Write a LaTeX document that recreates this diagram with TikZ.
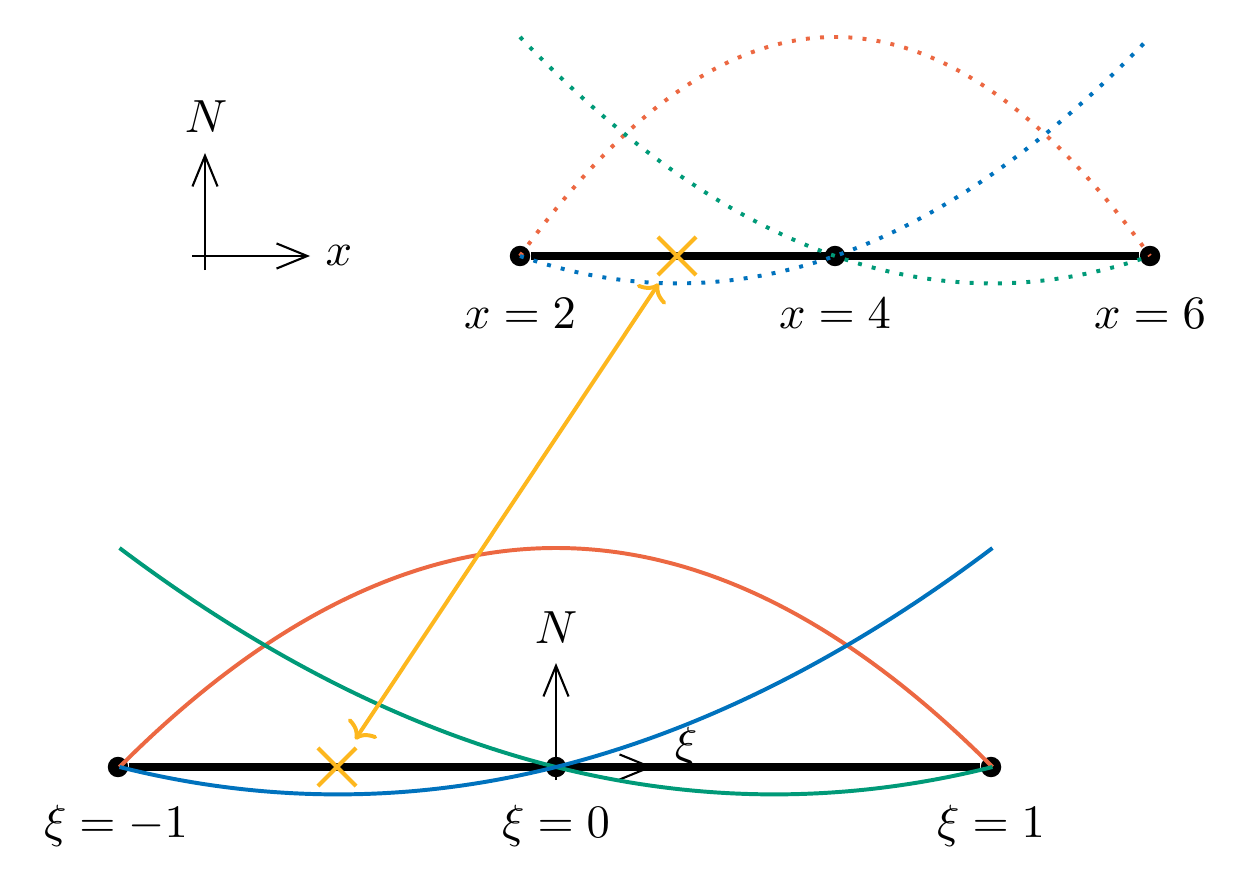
\documentclass[tikz,border=0pt]{standalone}
\usetikzlibrary{arrows.meta,shapes.misc}
\definecolor{cred}{RGB}{236,104,66}
\definecolor{cblue}{RGB}{0,114,189}
\definecolor{cgreen}{RGB}{0,154,120}
\definecolor{corange}{RGB}{253,183,30}
\begin{document}
\begin{tikzpicture}[x=0.215pt,y=-0.215pt,
  dotnode/.style={circle,fill=black,inner sep=0pt,minimum size=4.4pt},
  elemline/.style={line width=1.6pt},
  solidcurve/.style={line width=0.85pt},
  dotcurve/.style={line width=0.85pt,dash pattern=on 0.85pt off 2.2pt},
  axisline/.style={line width=0.45pt,-{Straight Barb[length=6.6pt,width=5.4pt]}},
  tickline/.style={line width=0.45pt},
  crossmark/.style={cross out,draw=corange,line width=0.9pt,minimum size=7.3pt,inner sep=0pt},
  maparrow/.style={corange,line width=0.85pt,{To[length=3.2pt,width=7.4pt]}-{To[length=3.2pt,width=7.4pt]},shorten <=2.2pt,shorten >=2.2pt},
  lab/.style={anchor=base,inner sep=0pt}]
\useasboundingbox (0,0) rectangle (1243,873);

% ---- top-left axes ----
\coordinate (oA) at (205,256);
\coordinate (oAd) at (205,270);
\coordinate (oAl) at (192,256);
\coordinate (oAu) at (205,153);
\coordinate (oAr) at (310,256);
\draw[tickline] (oAd) -- (oA);
\draw[tickline] (oAl) -- (oA);
\draw[axisline] (oA) -- (oAu);
\draw[axisline] (oA) -- (oAr);
\node[lab] (lNA) at (206,133) {$N$};
\node[lab] (lxA) at (339,265) {$x$};

% ---- top (physical) element ----
\node[dotnode] (t1) at (520,256) {};
\node[dotnode] (t2) at (835,256) {};
\node[dotnode] (t3) at (1150,256) {};
\draw[elemline] (t1) -- (t3);
\node[lab] (lt1) at (520,328) {$x=2$};
\node[lab] (lt2) at (835,328) {$x=4$};
\node[lab] (lt3) at (1150,328) {$x=6$};

\draw[dotcurve,cred] plot[domain=-1:1,samples=80,smooth] ({835+315*\x},{256-219*(1-\x*\x)});
\draw[dotcurve,cgreen] plot[domain=-1:1,samples=80,smooth] ({835+315*\x},{256-219*(\x*(\x-1)/2)});
\draw[dotcurve,cblue] plot[domain=-1:1,samples=80,smooth] ({835+315*\x},{256-219*(\x*(\x+1)/2)});

% ---- bottom (reference) element ----
\node[dotnode] (b1) at (118,767) {};
\node[dotnode] (b2) at (556,767) {};
\node[dotnode] (b3) at (991,767) {};
\draw[elemline] (b1) -- (b3);
\node[lab] (lb1) at (116,837) {$\xi=-1$};
\node[lab] (lb2) at (556,837) {$\xi=0$};
\node[lab] (lb3) at (991,837) {$\xi=1$};

\coordinate (oB) at (556,767);
\coordinate (oBd) at (556,780);
\coordinate (oBu) at (556,663);
\coordinate (oBr) at (653,767);
\draw[tickline] (oBd) -- (oB);
\draw[axisline] (oB) -- (oBu);
\draw[axisline] (oB) -- (oBr);
\node[lab] (lNB) at (556,643) {$N$};
\node[lab] (lxiB) at (686,759) {$\xi$};

\draw[solidcurve,cred] plot[domain=-1:1,samples=80,smooth] ({556+436.5*\x},{767-219*(1-\x*\x)});
\draw[solidcurve,cgreen] plot[domain=-1:1,samples=80,smooth] ({556+436.5*\x},{767-219*(\x*(\x-1)/2)});
\draw[solidcurve,cblue] plot[domain=-1:1,samples=80,smooth] ({556+436.5*\x},{767-219*(\x*(\x+1)/2)});

% ---- mapping ----
\node[crossmark] (cT) at (677,256) {};
\node[crossmark] (cB) at (337,767) {};
\draw[maparrow] (cB) -- (cT);
\end{tikzpicture}
\end{document}
